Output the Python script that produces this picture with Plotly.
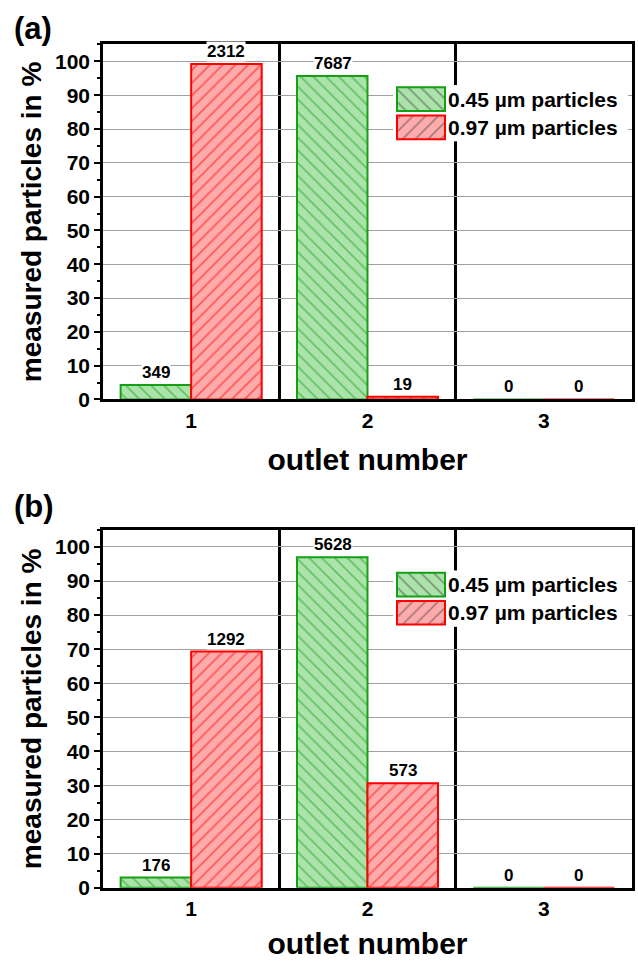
import plotly.graph_objects as go

outlets = [1, 2, 3]
tick_labels = ["1", "2", "3"]
separators = [1.5, 2.5]

# panel (a)
a_small_pct = [4.3, 95.7, 0.0]
a_large_pct = [99.2, 0.8, 0.0]
a_small_cnt = ["349", "7687", "0"]
a_large_cnt = ["2312", "19", "0"]

# panel (b)
b_small_pct = [3.0, 97.0, 0.0]
b_large_pct = [69.3, 30.7, 0.0]
b_small_cnt = ["176", "5628", "0"]
b_large_cnt = ["1292", "573", "0"]

names = ["0.45 µm particles", "0.97 µm particles"]
legend_swatch = [1, 1]

FONT = "Liberation Sans"
GREEN_FILL = "#abe3ab"
GREEN_LINE = "#14a014"
RED_FILL = "#ffabab"
RED_LINE = "#ff0000"

W, H = 638, 971


def px_y(top, bottom):
    return [1 - bottom / H, 1 - top / H]


xdom = [103 / W, 632 / W]
ydom_a = px_y(45, 404)
ydom_b = px_y(536, 898)

fig = go.Figure()


def add_panel(small, large, xa, ya):
    fig.add_trace(go.Bar(
        x=outlets, y=small, name=names[0], xaxis=xa, yaxis=ya, showlegend=False,
        marker=dict(color=GREEN_FILL, line=dict(color=GREEN_LINE, width=2),
                    pattern=dict(shape="\\", fgcolor=GREEN_LINE, bgcolor=GREEN_FILL,
                                 size=9, solidity=0.18, fillmode="overlay")),
        offsetgroup="s"))
    fig.add_trace(go.Bar(
        x=outlets, y=large, name=names[1], xaxis=xa, yaxis=ya, showlegend=False,
        marker=dict(color=RED_FILL, line=dict(color=RED_LINE, width=2),
                    pattern=dict(shape="/", fgcolor=RED_LINE, bgcolor=RED_FILL,
                                 size=9, solidity=0.18, fillmode="overlay")),
        offsetgroup="l"))


add_panel(a_small_pct, a_large_pct, "x", "y")
add_panel(b_small_pct, b_large_pct, "x2", "y2")


def add_legend(xa, ya):
    fig.add_trace(go.Bar(
        y=names, x=legend_swatch, orientation="h", xaxis=xa, yaxis=ya, showlegend=False,
        width=0.84, text=names, textposition="outside", constraintext="none",
        cliponaxis=False, hoverinfo="skip",
        textfont=dict(family=FONT, size=21, color="black", weight="bold"),
        marker=dict(color=[GREEN_FILL, RED_FILL],
                    line=dict(color=[GREEN_LINE, RED_LINE], width=2),
                    pattern=dict(shape=["\\", "/"], fgcolor=[GREEN_LINE, RED_LINE],
                                 bgcolor=[GREEN_FILL, RED_FILL],
                                 size=9, solidity=0.18, fillmode="overlay"))))


add_legend("x3", "y3")
add_legend("x4", "y4")

axis_font = dict(family=FONT, size=21, color="black", weight="bold")
xtitle_font = dict(family=FONT, size=30, color="black", weight="bold")
ytitle_font = dict(family=FONT, size=28, color="black", weight="bold")


def xaxis_cfg(anchor, standoff):
    return dict(domain=xdom, anchor=anchor, range=[0.5, 3.5], tickvals=outlets,
                ticktext=tick_labels, tickfont=axis_font, ticks="", showgrid=False,
                showline=True, linecolor="black", linewidth=3, mirror=True,
                zeroline=False,
                minor=dict(tickvals=separators, ticks="", showgrid=True,
                           gridcolor="black", gridwidth=2.5),
                title=dict(text="outlet number", font=xtitle_font, standoff=standoff))


def yaxis_cfg(anchor, dom):
    return dict(domain=dom, anchor=anchor, range=[0, 105], dtick=10, tickfont=axis_font,
                ticks="outside", ticklen=6, tickwidth=2, tickcolor="black",
                showgrid=True, gridcolor="#a0a0a0", gridwidth=1,
                showline=True, linecolor="black", linewidth=2.5, mirror=True,
                zeroline=False,
                minor=dict(dtick=5, ticks="outside", ticklen=3, tickwidth=2,
                           tickcolor="black", showgrid=False),
                title=dict(text="measured particles in %", font=ytitle_font, standoff=6))


def inset_x(anchor):
    return dict(domain=[393 / W, 628 / W], anchor=anchor, range=[-4 / 48, 231 / 48],
                visible=False, showgrid=False, zeroline=False, fixedrange=True)


def inset_y(anchor, dom):
    return dict(domain=dom, anchor=anchor, type="category", autorange="reversed",
                visible=False, showgrid=False, zeroline=False, fixedrange=True)


annotations = []
label_font = dict(family=FONT, size=17, color="black", weight="bold")


def labels(small_cnt, large_cnt, small, large, xa, ya):
    for o, c, v in zip(outlets, small_cnt, small):
        annotations.append(dict(x=o, y=v, xref=xa, yref=ya, text=c, showarrow=False,
                                xshift=-35, yanchor="bottom", yshift=2, bgcolor="white",
                                borderpad=0, font=label_font))
    for o, c, v in zip(outlets, large_cnt, large):
        annotations.append(dict(x=o, y=v, xref=xa, yref=ya, text=c, showarrow=False,
                                xshift=35, yanchor="bottom", yshift=2, bgcolor="white",
                                borderpad=0, font=label_font))


labels(a_small_cnt, a_large_cnt, a_small_pct, a_large_pct, "x", "y")
labels(b_small_cnt, b_large_cnt, b_small_pct, b_large_pct, "x2", "y2")

panel_font = dict(family=FONT, size=31, color="black", weight="bold")
annotations.append(dict(x=12 / W, y=1 - 29 / H, xref="paper", yref="paper", text="(a)",
                        showarrow=False, xanchor="left", yanchor="middle", font=panel_font))
annotations.append(dict(x=12 / W, y=1 - 512 / H, xref="paper", yref="paper", text="(b)",
                        showarrow=False, xanchor="left", yanchor="middle", font=panel_font))

fig.update_layout(
    width=W, height=H, margin=dict(l=0, r=0, t=0, b=0),
    paper_bgcolor="white", plot_bgcolor="white",
    barmode="group", bargap=0.2, bargroupgap=0,
    xaxis=xaxis_cfg("y", 19), yaxis=yaxis_cfg("x", ydom_a),
    xaxis2=xaxis_cfg("y2", 14), yaxis2=yaxis_cfg("x2", ydom_b),
    xaxis3=inset_x("y3"), yaxis3=inset_y("x3", px_y(86, 143)),
    xaxis4=inset_x("y4"), yaxis4=inset_y("x4", px_y(577, 634)),
    annotations=annotations, showlegend=False,
)

fig.write_html("out.html", config={"displayModeBar": False},
               post_script="document.body.style.margin='0';document.body.style.overflow='hidden';")
